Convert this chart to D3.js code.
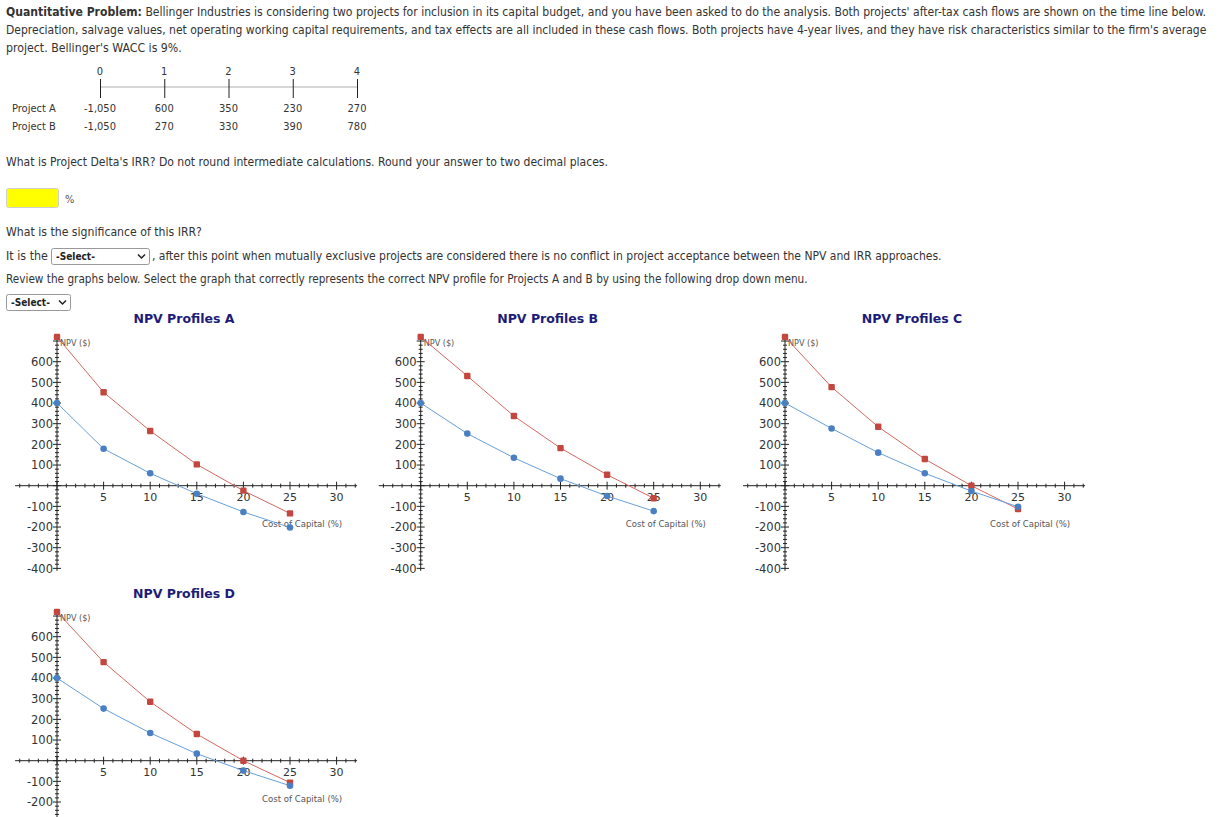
<!DOCTYPE html>
<html>
<head>
<meta charset="utf-8">
<script src="https://cdn.jsdelivr.net/npm/d3@7"></script>
<style>
  html, body { margin: 0; padding: 0; background: #fff; }
  svg { display: block; }
  text { font-family: "DejaVu Sans Condensed", "DejaVu Sans", sans-serif; }
</style>
</head>
<body>
<svg id="page" width="1232" height="817"></svg>
<script>
// time line
const periods = [0, 1, 2, 3, 4];
const projectA = [-1050, 600, 350, 230, 270];
const projectB = [-1050, 270, 330, 390, 780];

// NPV profile charts (cost of capital in %, NPV in $)
const rates = [0, 5, 10, 15, 20, 25];
const profileA_red = [720, 452, 265, 103, -24, -134];
const profileA_blue = [400, 179, 60, -39, -127, -202];
const profileB_red = [720, 531, 337, 182, 53, -61];
const profileB_blue = [400, 252, 135, 34, -50, -123];
const profileC_red = [720, 477, 285, 129, 0, -113];
const profileC_blue = [400, 277, 160, 60, -26, -102];
const profileD_red = [720, 477, 285, 129, 0, -106];
const profileD_blue = [400, 252, 134, 34, -48, -121];

const xTicks = [5, 10, 15, 20, 25, 30];
const yTicks = [600, 500, 400, 300, 200, 100, -100, -200, -300, -400];

const svg = d3.select("#page");
const ink = "#333";

// ---- question text ----
function line(x, y, parts, target) {
    let t = svg.append("text").attr("x", x).attr("y", y)
        .style("font-size", "11px").attr("fill", ink);
    parts.forEach(p => {
        t.append("tspan").text(p[0]).attr("font-weight", p[1] ? "bold" : null);
    });
    if (target) {
        let w = t.node().getComputedTextLength();
        t.style("font-size", (11 * target / w) + "px");
    }
    return t;
}

line(6, 16, [["Quantitative Problem:", true], [" Bellinger Industries is considering two projects for inclusion in its capital budget, and you have been asked to do the analysis. Both projects' after-tax cash flows are shown on the time line below.", false]], 1201);
line(6, 34, [["Depreciation, salvage values, net operating working capital requirements, and tax effects are all included in these cash flows. Both projects have 4-year lives, and they have risk characteristics similar to the firm's average", false]], 1202);
line(6, 52, [["project. Bellinger's WACC is 9%.", false]], 176);

// ---- time line ----
const tx = d3.scaleLinear().domain([0, 4]).range([100, 357]);
svg.append("line").attr("x1", tx(0)).attr("x2", tx(4)).attr("y1", 87).attr("y2", 87)
    .attr("stroke", "#c8c8c8").attr("stroke-width", 1.5);
svg.selectAll(".tl-tick").data(periods).enter().append("line")
    .attr("x1", d => tx(d) + 0.5).attr("x2", d => tx(d) + 0.5)
    .attr("y1", 79).attr("y2", 98).attr("stroke", "#222");
svg.selectAll(".tl-num").data(periods).enter().append("text")
    .attr("x", d => tx(d)).attr("y", 75).attr("text-anchor", "middle")
    .style("font-size", "11px").attr("fill", ink).text(d => d);

const fmt = d => d3.format(",")(d).replace("\u2212", "-");
[["Project A", projectA, 112], ["Project B", projectB, 130]].forEach(r => {
    svg.append("text").attr("x", 12).attr("y", r[2]).style("font-size", "11px")
        .attr("fill", ink).text(r[0]);
    svg.selectAll(null).data(r[1]).enter().append("text")
        .attr("x", (d, i) => tx(periods[i])).attr("y", r[2]).attr("text-anchor", "middle")
        .style("font-size", "11px").attr("fill", ink).text(d => fmt(d));
});

line(6, 166, [["What is Project Delta's IRR? Do not round intermediate calculations. Round your answer to two decimal places.", false]], 603);

svg.append("rect").attr("x", 6.5).attr("y", 188.5).attr("width", 52).attr("height", 19)
    .attr("rx", 2).attr("fill", "#ffff00").attr("stroke", "#d0d0d0");
svg.append("text").attr("x", 65).attr("y", 203).style("font-size", "11px").attr("fill", "#555").text("%");

line(6, 236, [["What is the significance of this IRR?", false]], 196);
line(6, 260, [["It is the", false]], 42);

function select(x, y, w) {
    svg.append("rect").attr("x", x + 0.5).attr("y", y + 0.5).attr("width", w).attr("height", 16)
        .attr("rx", 2).attr("fill", "#fff").attr("stroke", "#999");
    svg.append("text").attr("x", x + 5).attr("y", y + 12).style("font-size", "10px")
        .attr("font-weight", "bold").attr("fill", "#222").text("-Select-");
    svg.append("path")
        .attr("d", `M${x + w - 11},${y + 6.5}L${x + w - 7.5},${y + 10}L${x + w - 4},${y + 6.5}`)
        .attr("fill", "none").attr("stroke", "#222").attr("stroke-width", 1.5);
}
select(51, 248, 98);
line(152, 260, [[", after this point when mutually exclusive projects are considered there is no conflict in project acceptance between the NPV and IRR approaches.", false]], 790);
line(6, 283, [["Review the graphs below. Select the graph that correctly represents the correct NPV profile for Projects A and B by using the following drop down menu.", false]], 802);
select(6, 294, 64);

// ---- NPV profile charts ----
const redC = "#c4473f", redL = "#d4675f";
const bluC = "#4a80c2", bluL = "#67a0d8";

function profile(title, ox, oy, red, blue, labels) {
    const x = d3.scaleLinear().domain([0, 30]).range([ox, ox + 279.6]);
    const y = d3.scaleLinear().domain([0, 600]).range([oy, oy - 124]);
    const g = svg.append("g");

    g.append("text").attr("x", ox + 127).attr("y", y(0) - 163)
        .attr("text-anchor", "middle").style("font-size", "12.5px")
        .style("font-family", "'DejaVu Sans', sans-serif")
        .attr("font-weight", "bold").attr("fill", "#1c1c78").text(title);

    // x axis with minor ticks every 1 and major every 5
    g.append("line").attr("x1", x(-4.5)).attr("x2", x(32.2)).attr("y1", y(0)).attr("y2", y(0))
        .attr("stroke", "#222");
    g.selectAll(null).data(d3.range(-4, 33)).enter().append("line")
        .attr("x1", d => x(d)).attr("x2", d => x(d))
        .attr("y1", d => y(0) - (d % 5 === 0 ? 4 : 2))
        .attr("y2", d => y(0) + (d % 5 === 0 ? 4 : 2))
        .attr("stroke", "#222");
    g.selectAll(null).data(xTicks).enter().append("text")
        .attr("x", d => x(d)).attr("y", y(0) + 15).attr("text-anchor", "middle")
        .style("font-size", "11px").style("font-family", "'DejaVu Sans', sans-serif")
        .attr("fill", ink).text(d => d);

    // y axis with minor ticks every 20 and major every 100
    g.append("line").attr("x1", x(0)).attr("x2", x(0)).attr("y1", y(728)).attr("y2", y(-412))
        .attr("stroke", "#222");
    g.selectAll(null).data(d3.range(-400, 721, 20)).enter().append("line")
        .attr("x1", d => x(0) - (d % 100 === 0 ? 4 : 2))
        .attr("x2", d => x(0) + (d % 100 === 0 ? 4 : 2))
        .attr("y1", d => y(d)).attr("y2", d => y(d))
        .attr("stroke", "#222");
    g.selectAll(null).data(labels).enter().append("text")
        .attr("x", x(0) - 4).attr("y", d => y(d)).attr("dy", "0.36em").attr("text-anchor", "end")
        .style("font-size", "11.5px").style("font-family", "'DejaVu Sans', sans-serif")
        .attr("fill", ink).text(d => d);

    g.append("text").attr("x", x(0) + 3).attr("y", y(690) + 3)
        .style("font-size", "9px").attr("fill", "#555").text("NPV ($)");
    g.append("text").attr("x", x(22)).attr("y", y(0) + 41)
        .style("font-size", "9.5px").attr("fill", "#555").text("Cost of Capital (%)");

    const path = d3.line().x((d, i) => x(rates[i])).y(d => y(d));
    g.append("path").attr("d", path(red)).attr("fill", "none").attr("stroke", redL).attr("stroke-width", 1);
    g.append("path").attr("d", path(blue)).attr("fill", "none").attr("stroke", bluL).attr("stroke-width", 1);

    g.selectAll(null).data(red).enter().append("rect")
        .attr("x", (d, i) => x(rates[i]) - 3.2).attr("y", d => y(d) - 3.2)
        .attr("width", 6.4).attr("height", 6.4).attr("rx", 1.2).attr("fill", redC);
    g.selectAll(null).data(blue).enter().append("circle")
        .attr("cx", (d, i) => x(rates[i])).attr("cy", d => y(d))
        .attr("r", 3.3).attr("fill", bluC);
}

profile("NPV Profiles A", 57, 485.7, profileA_red, profileA_blue, yTicks);
profile("NPV Profiles B", 420.7, 485.7, profileB_red, profileB_blue, yTicks);
profile("NPV Profiles C", 785, 485.7, profileC_red, profileC_blue, yTicks);
// the page ends below -200 on the last chart
profile("NPV Profiles D", 57, 760.7, profileD_red, profileD_blue, yTicks.filter(d => d >= -200));
</script>
</body>
</html>
